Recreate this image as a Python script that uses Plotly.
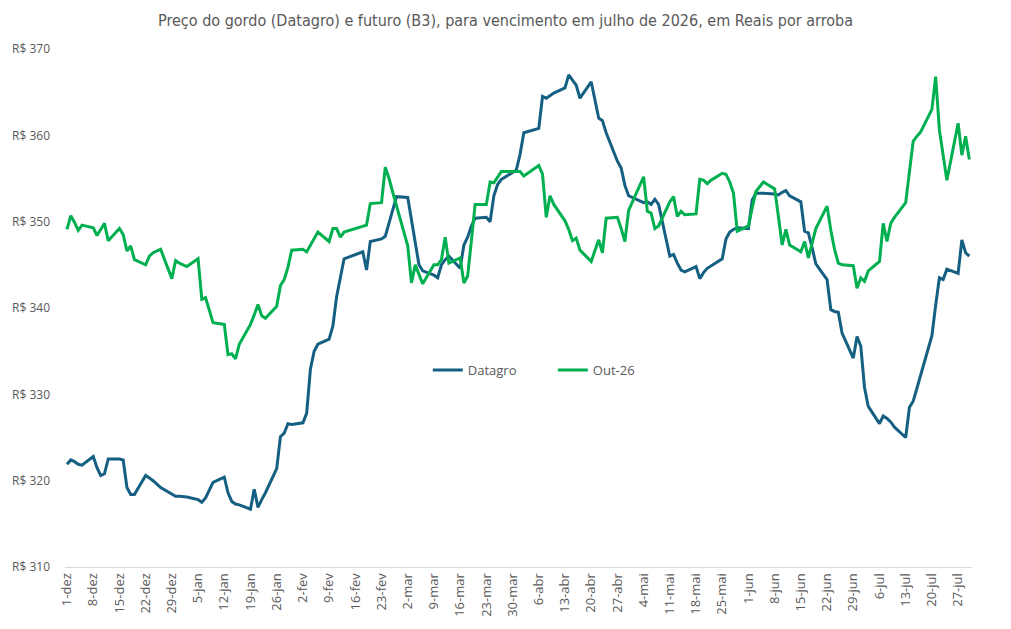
import pandas as pd
import plotly.graph_objects as go

# Business days 1-dez-2025 .. 30-jul-2026 (None = holiday, no quote)
start_date = "2025-12-01"
end_date = "2026-07-30"

datagro = [
    321.9, 322.4, 322.2, 321.9, 321.8,
    322.8, 321.5, 320.6, 320.8, 322.5,
    322.5, 322.4, 319.2, 318.4, 318.4,
    320.6, 320.3, 320.0, None, 319.2,
    318.5, 318.2, 318.2, None, 318.1,
    317.8, 317.5, 318.0, 318.9, 319.8,
    320.4, 318.6, 317.6, 317.3, 317.2,
    316.7, 319.0, 316.9, 317.8, 318.6,
    321.4, 325.1, 325.5, 326.6, 326.5,
    326.7, 327.8, 332.9, 335.0, 335.8,
    336.4, 337.9, 341.3, 343.5, 345.7,
    None, None, 346.5, 344.4, 347.7,
    348.0, 348.3, 349.8, 351.5, 352.9,
    352.8, 350.2, 348.0, 345.0, 344.3,
    343.8, 343.5, 345.0, 345.6, 346.0,
    344.6, 347.3, 348.2, 349.5, 350.4,
    350.5, 350.0, 353.0, 354.3, 354.9,
    355.7, 356.0, 357.8, 360.3, None,
    360.8, 364.5, 364.3, 364.6, 364.9,
    365.5, 367.0, 366.4, 365.8, 364.3,
    366.2, None, 362.0, 361.7, 360.3,
    357.0, 356.2, 354.2, 353.0, None,
    352.2, 352.3, 352.0, 352.6, 352.0,
    346.0, 346.2, 345.2, 344.4, 344.2,
    344.8, 343.4, 344.1, 344.6, 344.9,
    345.7, 348.0, 348.8, 349.1, 349.3,
    349.2, 352.5, 353.3, None, 353.3,
    353.2, 353.1, 353.4, 353.6, 353.0,
    352.3, 348.9, 348.7, 347.0, 345.1,
    343.3, 339.8, 339.6, 339.5, 337.1,
    334.2, 336.7, 335.6, 330.8, 328.6,
    326.6, 327.5, 327.2, 326.8, 326.2,
    325.0, 328.5, 329.2, 330.7, 332.3,
    336.8, 340.3, 343.5, 343.3, 344.5,
    344.0, 347.9, 346.4, 346.0,
]

out26 = [
    349.1, 350.7, 349.9, 349.0, 349.6,
    349.3, 348.4, 349.1, 349.8, 347.8,
    349.2, 348.5, 346.6, 347.2, 345.6,
    345.0, 346.0, 346.4, None, 346.8,
    343.4, 345.5, 345.2, None, 344.8,
    345.7, 341.0, 341.2, 339.7, 338.3,
    338.1, 334.6, 334.7, 334.1, 335.8,
    338.1, 339.2, 340.4, 339.1, 338.8,
    340.2, 342.6, 343.3, 344.7, 346.7,
    346.8, 346.5, 347.3, 348.0, 348.8,
    347.7, 349.2, 349.2, 348.2, 348.8,
    None, None, 349.4, 349.6, 352.1,
    352.2, 356.3, 355.0, 353.4, 351.9,
    347.2, 342.9, 345.0, 343.9, 342.8,
    345.0, 345.0, 345.6, 348.2, 345.2,
    345.8, 342.9, 343.7, 347.8, 352.0,
    352.0, 354.6, 354.5, 355.2, 355.8,
    355.8, 355.8, 355.8, 355.3, None,
    356.5, 355.5, 350.5, 353.0, 352.0,
    350.1, 349.1, 347.8, 348.1, 346.7,
    345.4, None, 347.9, 346.4, 350.4,
    350.5, 349.2, 347.7, 351.3, None,
    355.2, 351.2, 351.0, 349.2, 349.5,
    352.3, 352.9, 350.6, 351.2, 350.8,
    350.9, 354.9, 354.8, 354.4, 354.8,
    355.6, 355.5, 354.6, 353.3, 348.9,
    349.5, 351.6, 353.5, None, 354.6,
    353.8, 350.6, 347.3, 349.1, 347.3,
    346.5, 347.7, 345.8, 347.5, 349.2,
    351.8, 349.0, 346.8, 345.2, 345.0,
    344.9, 342.3, 343.5, 343.1, 344.3,
    345.4, 349.8, 347.7, 349.8, 350.5,
    352.2, 355.8, 359.3, 359.9, 360.4,
    363.0, 366.8, 360.6, 357.6, 354.8,
    361.4, 357.7, 359.9, 357.2,
]

tick_dates = pd.date_range("2025-12-01", "2026-07-27", freq="7D")
month_pt = ["jan", "fev", "mar", "abr", "mai", "jun", "jul", "ago", "set", "out", "nov", "dez"]
tick_labels = [f"{d.day}-{month_pt[d.month - 1]}" for d in tick_dates]
y_ticks = [310, 320, 330, 340, 350, 360, 370]
y_labels = [f"R$ {v}" for v in y_ticks]

dates = pd.bdate_range(start_date, end_date)

fig = go.Figure()
fig.add_trace(go.Scatter(x=dates, y=datagro, mode="lines", name="Datagro",
                         line=dict(color="#156082", width=3), connectgaps=True))
fig.add_trace(go.Scatter(x=dates, y=out26, mode="lines", name="Out-26",
                         line=dict(color="#00B050", width=3), connectgaps=True))

fig.update_layout(
    width=1011, height=629,
    margin=dict(l=62, r=39, t=49, b=61),
    paper_bgcolor="white", plot_bgcolor="white",
    title=dict(text="Preço do gordo (Datagro) e futuro (B3), para vencimento em julho de 2026, em Reais por arroba",
               x=0.5, xanchor="center", y=0.968, yanchor="middle",
               font=dict(family="Liberation Sans Narrow, DejaVu Sans Condensed, Roboto", size=16, color="#595959")),
    showlegend=True,
    legend=dict(orientation="h", x=0.4, xanchor="left", y=0.38, yanchor="middle",
                font=dict(family="Open Sans, Lato, sans-serif", size=13, color="#595959"),
                bgcolor="rgba(0,0,0,0)", entrywidth=80),
    font=dict(family="Open Sans, Lato, sans-serif", color="#595959"),
)
fig.update_xaxes(
    type="date",
    range=["2025-11-30 11:00", "2026-07-30 17:00"],
    tickmode="array", tickvals=tick_dates, ticktext=tick_labels,
    tickangle=-90, tickfont=dict(size=13, color="#595959"),
    showgrid=False, zeroline=False,
    showline=True, linecolor="#D9D9D9", linewidth=1,
    ticks="",
)
fig.update_yaxes(
    range=[310, 370], tickmode="array", tickvals=y_ticks, ticktext=y_labels,
    tickfont=dict(size=12, color="#595959"),
    showgrid=False, zeroline=False, showline=False, ticks="",
    ticklabelstandoff=14,
)

fig.write_html("out.html")
